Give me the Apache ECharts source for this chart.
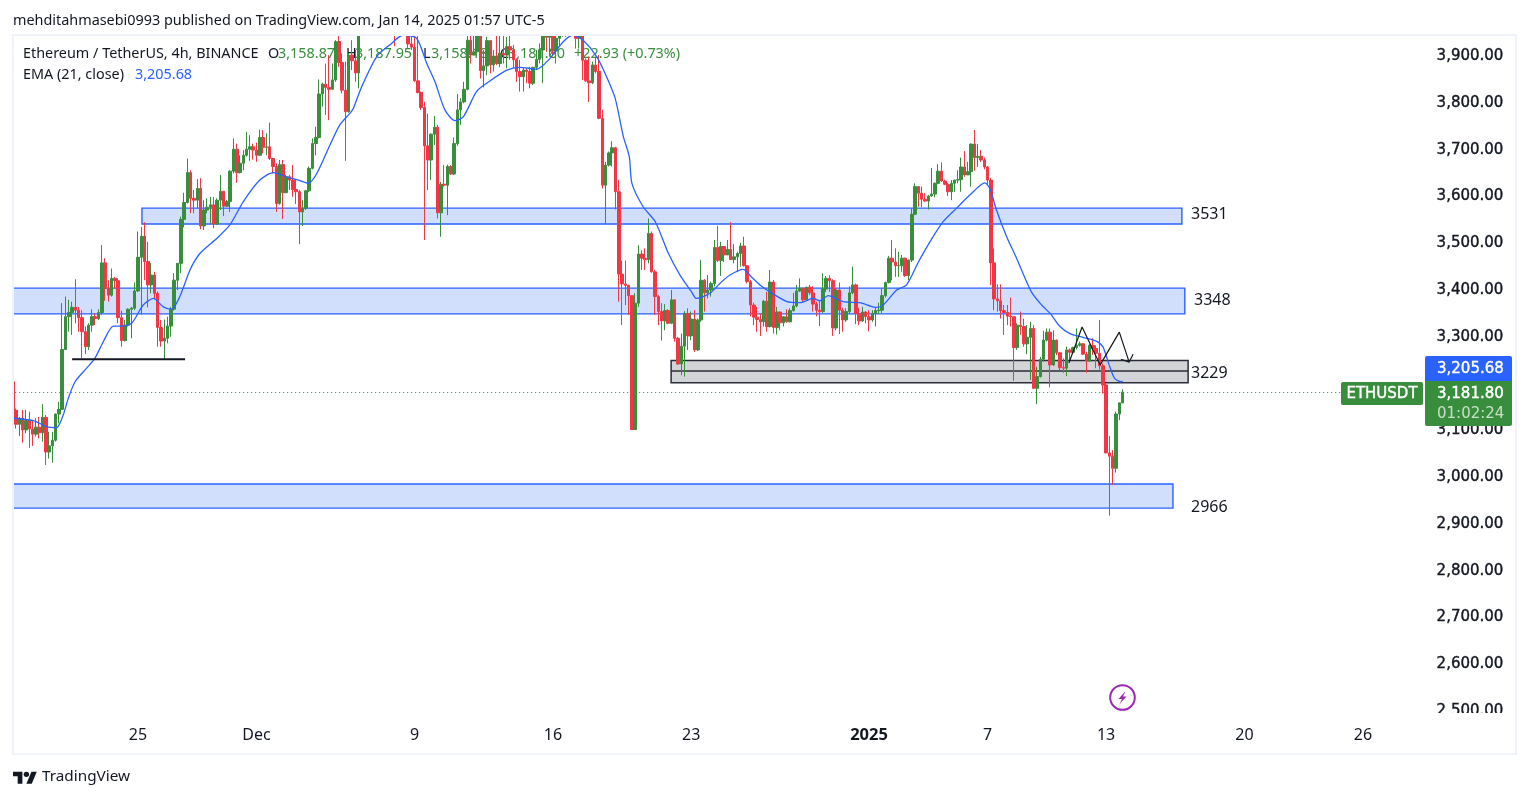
<!DOCTYPE html>
<html><head><meta charset="utf-8">
<style>html,body{margin:0;padding:0;background:#fff}#c{width:1529px;height:798px}</style>
<script src="https://cdn.jsdelivr.net/npm/echarts@6/dist/echarts.min.js"></script>
</head><body><div id="c"></div>
<script>
const firstOpen = 3204;
const closes = [
3143,3113,3126,3101,3121,3103,3092,3107,3095,3128,
3054,3067,3079,3135,3145,3273,3343,3352,3363,3357,
3341,3311,3279,3325,3343,3339,3352,3458,3404,3389,
3425,3420,3341,3292,3325,3359,3361,3398,3470,3515,
3461,3411,3432,3393,3320,3291,3297,3323,3359,3421,
3457,3551,3587,3651,3596,3592,3617,3537,3571,3577,
3582,3541,3592,3611,3579,3589,3654,3701,3651,3671,
3688,3701,3706,3699,3688,3726,3705,3706,3681,3664,
3585,3668,3608,3642,3635,3615,3610,3567,3575,3612,
3660,3713,3726,3819,3840,3833,3829,3849,3931,3886,
3827,3781,3902,3890,3864,3959,3990,3975,4020,4005,
4030,4060,4040,4015,3995,4010,3985,4000,3975,3965,
3926,3919,3847,3822,3790,3708,3678,3733,3748,3565,
3626,3624,3664,3648,3713,3785,3802,3829,3934,3902,
3909,3959,3869,3879,3933,3881,3900,3884,3906,3902,
3920,3913,3892,3867,3856,3870,3867,3842,3876,3893,
3913,3948,3940,3952,3911,3938,3952,3963,3966,3975,
3965,3938,3943,3891,3847,3843,3881,3867,3767,3624,
3667,3693,3704,3610,3434,3413,3410,3388,3102,3372,
3477,3468,3465,3521,3439,3386,3354,3334,3356,3329,
3379,3297,3242,3280,3350,3302,3338,3272,3336,3421,
3394,3400,3414,3491,3463,3493,3475,3487,3465,3471,
3478,3494,3452,3418,3368,3342,3337,3332,3376,3322,
3417,3320,3353,3330,3343,3332,3356,3366,3398,3404,
3379,3406,3394,3370,3357,3354,3402,3425,3420,3319,
3400,3357,3336,3354,3394,3411,3350,3334,3353,3343,
3336,3350,3356,3357,3388,3416,3468,3460,3452,3452,
3468,3431,3464,3562,3621,3607,3594,3590,3601,3605,
3628,3654,3633,3626,3610,3628,3635,3636,3663,3646,
3653,3712,3683,3686,3678,3663,3635,3458,3381,3377,
3356,3352,3344,3343,3277,3325,3322,3285,3299,3318,
3190,3215,3252,3293,3310,3240,3293,3266,3234,3233,
3272,3267,3277,3282,3285,3263,3248,3282,3275,3265,
3238,3197,3052,3045,3019,3135,3158.87,3181.8];
const highs = [
3218,3147,3129,3144,3144,3140,3122,3126,3129,3156,
3133,3097,3097,3136,3161,3372,3386,3379,3375,3423,
3364,3357,3322,3329,3359,3350,3359,3496,3468,3421,
3446,3428,3425,3356,3336,3361,3364,3416,3525,3535,
3545,3503,3458,3439,3397,3336,3337,3343,3364,3436,
3458,3557,3608,3681,3656,3614,3637,3639,3592,3596,
3599,3599,3596,3646,3612,3592,3656,3724,3713,3688,
3699,3738,3731,3713,3715,3743,3742,3735,3758,3681,
3671,3678,3678,3646,3646,3667,3635,3614,3592,3614,
3664,3724,3749,3850,3843,3884,3902,3884,3934,3947,
3906,3888,3906,3934,3913,3975,4005,4010,4040,4050,
4065,4090,4075,4060,4030,4040,4025,4030,4020,3995,
3990,3960,3947,3947,3824,3802,3777,3735,3772,3753,
3631,3667,3668,3667,3726,3819,3810,3845,3947,3947,
3950,3975,3970,3913,3941,3934,3913,3947,3947,3947,
3941,3947,3924,3895,3892,3876,3874,3877,3877,3913,
3927,3965,3965,3970,3960,3947,3965,3985,3990,4000,
3990,3975,3950,3950,3895,3899,3888,3899,3902,3785,
3674,3696,3718,3706,3635,3463,3463,3411,3389,3393,
3496,3485,3489,3553,3525,3443,3389,3372,3370,3359,
3400,3379,3300,3307,3355,3361,3354,3357,3339,3464,
3423,3432,3418,3507,3537,3503,3494,3507,3545,3498,
3482,3501,3514,3453,3421,3373,3364,3350,3379,3396,
3443,3421,3364,3354,3344,3359,3361,3394,3411,3425,
3404,3407,3411,3408,3375,3379,3436,3430,3432,3423,
3404,3416,3362,3361,3408,3450,3414,3362,3364,3355,
3357,3357,3364,3373,3404,3418,3473,3507,3489,3482,
3475,3469,3465,3574,3628,3622,3621,3607,3603,3661,
3630,3669,3673,3636,3629,3635,3636,3656,3683,3697,
3674,3713,3742,3712,3699,3683,3665,3639,3489,3412,
3412,3368,3368,3384,3344,3329,3354,3339,3325,3332,
3325,3236,3257,3313,3318,3318,3314,3294,3268,3254,
3279,3275,3279,3318,3290,3286,3268,3285,3297,3282,
3336,3243,3201,3088,3058,3140,3158.87,3187.95];
const lows = [
3140,3104,3088,3074,3094,3063,3067,3087,3083,3076,
3026,3040,3031,3076,3115,3144,3272,3311,3304,3329,
3311,3254,3263,3272,3311,3325,3336,3347,3377,3375,
3386,3404,3329,3279,3290,3322,3297,3357,3396,3347,
3421,3363,3393,3380,3279,3279,3252,3286,3300,3356,
3400,3436,3534,3585,3564,3564,3575,3530,3528,3564,
3542,3532,3539,3571,3558,3578,3567,3649,3629,3649,
3656,3685,3676,3679,3674,3688,3692,3688,3678,3649,
3567,3582,3552,3607,3614,3599,3584,3498,3537,3571,
3609,3658,3688,3724,3792,3774,3763,3829,3845,3877,
3820,3676,3779,3870,3845,3831,3950,3955,3970,3985,
3990,4015,4010,3985,3965,3975,3921,3965,3955,3950,
3916,3913,3845,3820,3785,3507,3614,3635,3710,3553,
3514,3621,3560,3646,3646,3708,3753,3799,3827,3884,
3902,3907,3852,3833,3859,3863,3867,3881,3876,3884,
3874,3892,3874,3845,3824,3824,3842,3831,3838,3870,
3884,3842,3909,3899,3899,3884,3920,3941,3941,3950,
3950,3916,3916,3849,3845,3802,3840,3863,3765,3617,
3541,3664,3664,3572,3375,3325,3368,3347,3101,3101,
3364,3443,3443,3457,3437,3347,3325,3292,3314,3327,
3327,3290,3240,3218,3215,3272,3293,3268,3270,3332,
3354,3382,3386,3408,3460,3430,3460,3475,3464,3457,
3439,3450,3450,3414,3344,3325,3311,3302,3322,3311,
3320,3307,3305,3314,3322,3330,3331,3354,3363,3396,
3375,3377,3389,3354,3344,3323,3351,3396,3396,3302,
3314,3306,3311,3332,3349,3391,3327,3325,3332,3329,
3312,3332,3322,3349,3351,3384,3414,3421,3428,3428,
3439,3428,3421,3460,3560,3578,3577,3589,3572,3599,
3598,3626,3631,3624,3601,3592,3610,3628,3610,3642,
3646,3621,3655,3663,3674,3658,3624,3411,3357,3354,
3339,3304,3325,3322,3206,3272,3304,3279,3263,3208,
3188,3156,3213,3247,3290,3192,3238,3261,3229,3223,
3216,3250,3265,3273,3279,3261,3223,3247,3261,3233,
3230,3179,3051,2918,2983,3010,3122,3158.18];
const emaIndex = [0,6.2,10.3,13.3,15.3,16.8,18.9,22.4,24.9,27.5,30.5,33,36.1,39.6,42.7,45.7,48.2,50.7,53.8,56.8,61.9,65.9,70,75,79.1,83.1,87.2,89.7,92.3,96.3,99.3,102.4,103.4,105.9,110.5,114.5,118.6,122.6,125.7,128.2,131.2,134.3,136.8,140.8,143.9,150,154,159.1,163.1,167.2,170.2,173.2,177.3,180.3,182.9,185.4,187.2,188,191.4,195.1,199.1,202.6,206.1,207.6,211.7,214.7,217.8,221.8,224.3,226.9,229.9,234.9,239,243,245.1,247.6,252.2,257.2,262.3,264.3,268.4,271.4,275,278.5,282.5,286.6,290.6,295.2,296.7,298.7,301.8,304.8,309.3,312.4,315,318,321,325,329,331,333.1,334.6,336.6,337];
const emaValues = [3126,3121,3108,3106,3133,3168,3204,3233,3254,3290,3323,3323,3329,3368,3382,3364,3359,3386,3443,3478,3510,3539,3589,3635,3651,3642,3634,3628,3649,3710,3753,3778,3788,3834,3899,3924,3945,3938,3884,3845,3785,3762,3770,3824,3842,3870,3876,3872,3895,3931,3945,3934,3899,3856,3810,3728,3685,3628,3578,3546,3478,3432,3396,3382,3393,3414,3432,3444,3428,3411,3396,3376,3373,3382,3377,3388,3375,3373,3363,3368,3400,3411,3460,3503,3546,3575,3603,3629,3617,3571,3514,3468,3396,3368,3350,3322,3307,3299,3291,3279,3236,3211,3204,3205.68];
const lastPrice = 3181.8, emaLast = 3205.68;
const yTicks = [2500,2600,2700,2800,2900,3000,3100,3200,3300,3400,3500,3600,3700,3800,3900];
const xTickIndex = [38,74,122,164,206,260,296,332,374,410];
const xTickLabel = ['25','Dec','9','16','23','2025','7','13','20','26'];
const slotCount = 428;
const blueZones = [[39.2,355,3541,3575],[0.04,355.9,3349,3404],[0.04,352.3,2934,2985.5]];
const greyZone = [199.9,356.9,3202,3249.4];
const greyMid = 3227;
const support = [[18,3252],[52.3,3252]];
const swingPath = [[320.7,3244],[324.7,3321],[330.2,3240],[336,3310],[339,3246]];
const arrowHead = [[336.5,3252],[339,3246],[340.2,3263]];

const GREEN='#388e3c', RED='#f23645', BLUE='#2962ff', INK='#131722';
const opens = closes.map((c,i)=> i ? closes[i-1] : firstOpen);
const candles = closes.map((c,i)=>[opens[i],c,lows[i],highs[i]]);
const categories = Array.from({length:slotCount},(_,i)=>{const k=xTickIndex.indexOf(i);return k>=0?xTickLabel[k]:'';});
const fmt = v=>Number(v).toLocaleString('en-US',{minimumFractionDigits:2,maximumFractionDigits:2});
const FONT='"Noto Sans", sans-serif', PRICE='"DejaVu Sans", sans-serif';
const txt=(x,y,t,o={})=>({type:'text',x,y,z:o.z??1,style:{text:t,fill:o.fill||INK,font:`${o.w||'normal'} ${o.s||14.4}px ${o.f||FONT}`,textAlign:o.a||'left',textVerticalAlign:'middle',opacity:o.op??1,stroke:o.st||null,lineWidth:o.st?0.4:0}});
const rect=(x,y,w,h,f,z,r)=>({type:'rect',z,shape:{x,y,width:w,height:h,r:r||0},style:{fill:f}});

const chart=echarts.init(document.getElementById('c'),null,{renderer:'canvas'});
chart.setOption({
 animation:false,
 backgroundColor:'#ffffff',
 grid:{left:11.2,top:35,width:1409.4,height:679,containLabel:false},
 xAxis:[
  {type:'category',data:categories,boundaryGap:true,z:60,axisLine:{show:false},axisTick:{show:false},splitLine:{show:false},
   axisLabel:{interval:0,margin:12,fontFamily:FONT,fontSize:16,color:INK,lineHeight:18,hideOverlap:false,
    formatter:v=>v==='2025'?'{b|2025}':v,rich:{b:{fontWeight:'bold',fontFamily:FONT,fontSize:16.5,color:INK}}}},
  {type:'value',min:-0.5,max:slotCount-0.5,show:false}
 ],
 yAxis:{type:'value',position:'right',min:2494,max:3945,scale:true,axisLine:{show:false},axisTick:{show:false},splitLine:{show:false},
  axisLabel:{customValues:yTicks,margin:16,align:'left',padding:[3,0,0,0],fontFamily:PRICE,fontSize:15,color:INK,textBorderColor:INK,textBorderWidth:0.4,formatter:fmt}},
 series:[
  {type:'line',xAxisIndex:1,z:1,data:[],silent:true,
   markArea:{silent:true,z:1,itemStyle:{color:'#d1dffd',borderColor:BLUE,borderWidth:1.4,opacity:1},
    data:blueZones.map(z=>[{coord:[z[0],z[2]]},{coord:[z[1],z[3]]}])}},
  {type:'line',xAxisIndex:1,z:1,data:[],silent:true,
   markArea:{silent:true,z:1,itemStyle:{color:'#d3d4d8',borderColor:'#2a2e39',borderWidth:1.5,opacity:1},
    data:[[{coord:[greyZone[0],greyZone[2]]},{coord:[greyZone[1],greyZone[3]]}]]}},
  {type:'line',xAxisIndex:1,z:1,symbol:'none',silent:true,lineStyle:{color:'#2a2e39',width:1.5},
   data:[[greyZone[0],greyMid],[greyZone[1],greyMid]]},
  {type:'candlestick',name:'ETHUSDT',z:3,data:candles,barWidth:3,clip:true,silent:true,
   itemStyle:{color:GREEN,color0:RED,borderColor:GREEN,borderColor0:RED,borderWidth:1},
   markLine:{silent:true,symbol:'none',z:2,label:{show:false},
    lineStyle:{color:GREEN,type:[1,3],width:1},data:[{yAxis:lastPrice}]}},
  {type:'line',xAxisIndex:1,z:4,symbol:'none',silent:true,smooth:0.25,lineStyle:{color:BLUE,width:1.3},
   data:emaIndex.map((x,i)=>[x,emaValues[i]])},
  {type:'line',xAxisIndex:1,z:5,symbol:'none',silent:true,lineStyle:{color:INK,width:2},data:support},
  {type:'line',xAxisIndex:1,z:5,symbol:'none',silent:true,lineStyle:{color:INK,width:1.2},data:swingPath},
  {type:'line',xAxisIndex:1,z:5,symbol:'none',silent:true,lineStyle:{color:INK,width:1.2},data:arrowHead}
 ],
 graphic:[
  rect(0,0,1529,35,'#ffffff',40),
  txt(13,20.5,'mehditahmasebi0993 published on TradingView.com, Jan 14, 2025 01:57 UTC-5',{z:50}),
  txt(23,54,'Ethereum / TetherUS, 4h, BINANCE'),
  txt(268,54,'O'),txt(278,54,'3,158.87',{fill:GREEN}),
  txt(346,54,'H'),txt(355,54,'3,187.95',{fill:GREEN}),
  txt(423,54,'L'),txt(431,54,'3,158.18',{fill:GREEN}),
  txt(500,54,'C'),txt(508,54,'3,181.80',{fill:GREEN}),
  txt(574,54,'+22.93 (+0.73%)',{fill:GREEN}),
  txt(23,75,'EMA (21, close)'),txt(135,75,'3,205.68',{fill:BLUE}),
  txt(1191,214,'3531',{s:16,z:50}),txt(1194,300,'3348',{s:16,z:50}),
  txt(1191,373,'3229',{s:16,z:50}),txt(1191,507,'2966',{s:16,z:50}),
  rect(0,0,13,798,'#ffffff',40),
  rect(1421,713,95,40,'#ffffff',40),
  {type:'rect',z:41,shape:{x:13,y:35,width:1503,height:719},style:{fill:'none',stroke:'#f0f3fa',lineWidth:2}},
  {type:'circle',z:50,shape:{cx:1122.5,cy:697.5,r:12.3},style:{fill:'#fff',stroke:'#9c27b0',lineWidth:2}},
  {type:'polygon',z:51,shape:{points:[[1125.5,691],[1118.5,699],[1122,699],[1119.5,704],[1126.5,696.5],[1123,696.5]]},style:{fill:'#9c27b0'}},
  rect(1341,382,82,23,GREEN,50,2),
  txt(1382,394,'ETHUSDT',{s:15,f:PRICE,st:'#fff',fill:'#fff',z:51,a:'center'}),
  rect(1425,356,87,25.5,BLUE,50,[2,2,0,0]),
  rect(1425,381,87,45,GREEN,50,[0,0,2,2]),
  txt(1437,369,'3,205.68',{s:15,f:PRICE,st:'#fff',fill:'#fff',z:51}),
  txt(1437,394,'3,181.80',{s:15,f:PRICE,st:'#fff',fill:'#fff',z:51}),
  txt(1437,414,'01:02:24',{s:15,f:PRICE,fill:'#fff',z:51,op:0.72}),
  {type:'group',x:13,y:769,scaleX:0.67,scaleY:0.67,z:50,children:[
   {type:'polygon',z:50,shape:{points:[[0,4],[14,4],[14,22],[7,22],[7,11],[0,11]]},style:{fill:INK}},
   {type:'polygon',z:50,shape:{points:[[27.5,4],[35.5,4],[28,22],[20,22]]},style:{fill:INK}},
   {type:'circle',z:50,shape:{cx:20,cy:8,r:4},style:{fill:INK}}]},
  txt(42,777,'TradingView',{s:15.3,z:50})
 ]
});
</script></body></html>
